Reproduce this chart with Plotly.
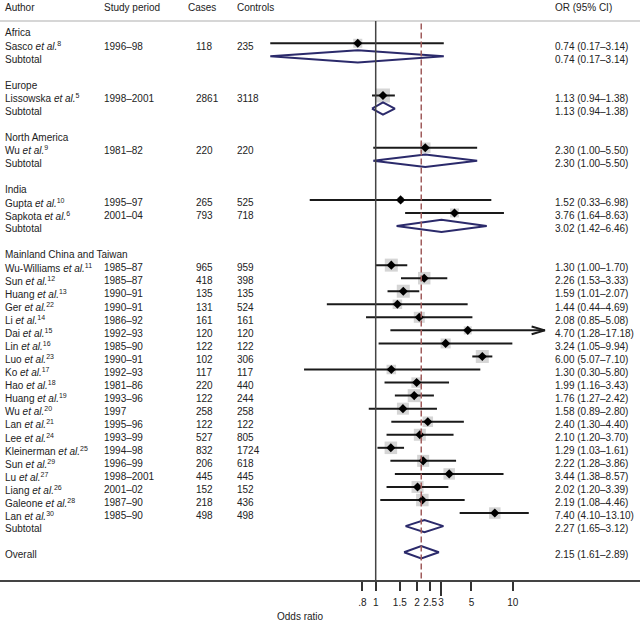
import plotly.graph_objects as go

# ---------------- data ----------------
groups = ["Africa", "Europe", "North America", "India", "Mainland China and Taiwan"]

authors = ["Sasco", "Lissowska", "Wu", "Gupta", "Sapkota",
           "Wu-Williams", "Sun", "Huang", "Ger", "Li", "Dai", "Lin", "Luo", "Ko",
           "Hao", "Huang", "Wu", "Lan", "Lee", "Kleinerman", "Sun", "Lu", "Liang",
           "Galeone", "Lan"]
refs = [8, 5, 9, 10, 6, 11, 12, 13, 22, 14, 15, 16, 23, 17, 18, 19, 20, 21, 24, 25,
        29, 27, 26, 28, 30]
study_group = [0, 1, 2, 3, 3] + [4] * 20
periods = ["1996–98", "1998–2001", "1981–82", "1995–97", "2001–04",
           "1985–87", "1985–87", "1990–91", "1990–91", "1986–92", "1992–93", "1985–90",
           "1990–91", "1992–93", "1981–86", "1993–96", "1997", "1995–96", "1993–99",
           "1994–98", "1996–99", "1998–2001", "2001–02", "1987–90", "1985–90"]
cases = [118, 2861, 220, 265, 793, 965, 418, 135, 131, 161, 120, 122, 102, 117, 220,
         122, 258, 122, 527, 832, 206, 445, 152, 218, 498]
controls = [235, 3118, 220, 525, 718, 959, 398, 135, 524, 161, 120, 122, 306, 117, 440,
            244, 258, 122, 805, 1724, 618, 445, 152, 436, 498]
# odds ratios as drawn
or_est = [0.74, 1.13, 2.30, 1.52, 3.76, 1.30, 2.26, 1.59, 1.44, 2.08, 4.70, 3.24, 6.00,
          1.30, 1.99, 1.91, 1.58, 2.40, 2.10, 1.29, 2.22, 3.44, 2.02, 2.19, 7.40]
or_lo = [0.17, 0.94, 0.96, 0.33, 1.64, 1.00, 1.53, 1.22, 0.44, 0.85, 1.28, 1.05, 5.07,
         0.30, 1.16, 1.38, 0.89, 1.30, 1.20, 1.03, 1.28, 1.38, 1.20, 1.08, 4.10]
or_hi = [3.14, 1.38, 5.50, 6.98, 8.63, 1.70, 3.33, 2.08, 4.69, 5.08, 17.18, 9.94, 7.10,
         5.80, 3.43, 2.66, 2.80, 4.40, 3.70, 1.61, 3.86, 8.57, 3.39, 4.46, 13.10]
or_text = ["0.74 (0.17–3.14)", "1.13 (0.94–1.38)", "2.30 (1.00–5.50)", "1.52 (0.33–6.98)",
           "3.76 (1.64–8.63)", "1.30 (1.00–1.70)", "2.26 (1.53–3.33)", "1.59 (1.01–2.07)",
           "1.44 (0.44–4.69)", "2.08 (0.85–5.08)", "4.70 (1.28–17.18)", "3.24 (1.05–9.94)",
           "6.00 (5.07–7.10)", "1.30 (0.30–5.80)", "1.99 (1.16–3.43)", "1.76 (1.27–2.42)",
           "1.58 (0.89–2.80)", "2.40 (1.30–4.40)", "2.10 (1.20–3.70)", "1.29 (1.03–1.61)",
           "2.22 (1.28–3.86)", "3.44 (1.38–8.57)", "2.02 (1.20–3.39)", "2.19 (1.08–4.46)",
           "7.40 (4.10–13.10)"]
weights = [9, 14, 10.5, 6, 9, 13, 12.5, 13, 9.5, 11, 8, 10, 13, 9.5, 10.5, 13, 12,
           10.5, 12, 12.5, 12, 11.5, 12, 12.5, 11.5]

sub_est = [0.74, 1.13, 2.30, 3.02, 2.27]
sub_lo = [0.17, 0.94, 0.96, 1.42, 1.65]
sub_hi = [3.14, 1.38, 5.50, 6.46, 3.12]
sub_text = ["0.74 (0.17–3.14)", "1.13 (0.94–1.38)", "2.30 (1.00–5.50)",
            "3.02 (1.42–6.46)", "2.27 (1.65–3.12)"]

overall_est, overall_lo, overall_hi = 2.15, 1.61, 2.89
overall_text = "2.15 (1.61–2.89)"

tick_vals = [0.8, 1, 1.5, 2, 2.5, 3, 5, 10]
tick_text = [".8", "1", "1.5", "2", "2.5", "3", "5", "10"]
arrow_limit = 15

# ---------------- layout of rows ----------------
W, H = 640, 623
FONT = "Liberation Sans, Arial, Helvetica, sans-serif"
TXT = "#222222"
NAVY = "#2b2a6b"
TOFF = 0.21  # text offset in rows

study_row, group_row, sub_row = [], [], []
r = 0
for g in range(len(groups)):
    group_row.append(r)
    r += 1
    for i, sg in enumerate(study_group):
        if sg == g:
            study_row.append((i, r))
            r += 1
    sub_row.append(r)
    r += 2
overall_row = r
srow = [0] * len(authors)
for i, rr in study_row:
    srow[i] = rr

fig = go.Figure()

# weight boxes
fig.add_trace(go.Scatter(x=or_est, y=srow, mode="markers",
                         marker=dict(symbol="square", size=weights, color="#c3c3c3",
                                     line=dict(width=0)),
                         hoverinfo="skip", showlegend=False))
# CI lines
lx, ly = [], []
for i in range(len(authors)):
    lx += [or_lo[i], or_hi[i], None]
    ly += [srow[i], srow[i], None]
    if or_hi[i] > arrow_limit:
        lx += [or_hi[i] * 0.8, or_hi[i], or_hi[i] * 0.8, None]
        ly += [srow[i] - 0.3, srow[i], srow[i] + 0.3, None]
fig.add_trace(go.Scatter(x=lx, y=ly, mode="lines", line=dict(color="#1a1a1a", width=2),
                         hoverinfo="skip", showlegend=False))
# point estimates
fig.add_trace(go.Scatter(x=or_est, y=srow, mode="markers",
                         marker=dict(symbol="diamond", size=7, color="#000000"),
                         hoverinfo="skip", showlegend=False))
# subtotal and overall diamonds
h = 0.47
dx, dy = [], []
for g in range(len(groups)):
    rr = sub_row[g]
    dx += [sub_lo[g], sub_est[g], sub_hi[g], sub_est[g], sub_lo[g], None]
    dy += [rr, rr - h, rr, rr + h, rr, None]
dx += [overall_lo, overall_est, overall_hi, overall_est, overall_lo]
dy += [overall_row, overall_row - h, overall_row, overall_row + h, overall_row]
fig.add_trace(go.Scatter(x=dx, y=dy, mode="lines", fill="toself", fillcolor="white",
                         line=dict(color=NAVY, width=2),
                         hoverinfo="skip", showlegend=False))

# ---------------- text ----------------
ann = []


def txt(xpx, y, s, size=10):
    ann.append(dict(x=xpx / W, xref="paper", y=y, yref="y", text=s, showarrow=False,
                    xanchor="left", yanchor="middle",
                    font=dict(family=FONT, size=size, color=TXT)))


COLX = [3, 102, 186, 235, 553]
HEADY = -1.78
for cx, s in zip(COLX, ["Author", "Study period", "Cases", "Controls", "OR (95% CI)"]):
    txt(cx, HEADY, s)
for g in range(len(groups)):
    txt(COLX[0], group_row[g] + TOFF, groups[g])
    txt(COLX[0], sub_row[g] + TOFF, "Subtotal")
    txt(COLX[4], sub_row[g] + TOFF, sub_text[g])
for i in range(len(authors)):
    y = srow[i] + TOFF
    txt(COLX[0], y, f"{authors[i]} <i>et al.</i><sup>{refs[i]}</sup>")
    txt(COLX[1], y, periods[i])
    txt(194, y, str(cases[i]))
    txt(COLX[3], y, str(controls[i]))
    txt(COLX[4], y, or_text[i])
txt(COLX[0], overall_row + TOFF, "Overall")
txt(COLX[4], overall_row + TOFF, overall_text)
ann.append(dict(x=300 / W, xref="paper", y=-(616 - 580) / 580, yref="paper",
                text="Odds ratio", showarrow=False, xanchor="center", yanchor="middle",
                font=dict(family=FONT, size=10, color=TXT)))

# ---------------- shapes ----------------
head_y = (21 - 30.25) / 13.05
shapes = [
    dict(type="line", xref="paper", x0=0, x1=1, yref="y", y0=head_y, y1=head_y,
         line=dict(color="#d6d6d6", width=2)),
    dict(type="line", xref="x", x0=1, x1=1, yref="y", y0=head_y, y1=42.2,
         line=dict(color="#444444", width=1.5)),
    dict(type="line", xref="x", x0=overall_est, x1=overall_est, yref="y",
         y0=head_y + 0.2, y1=42.2, line=dict(color="#a05c5c", width=1.5, dash="6px,3px")),
]

fig.update_layout(
    width=W, height=H, margin=dict(l=0, r=0, t=0, b=43),
    paper_bgcolor="white", plot_bgcolor="white",
    annotations=ann, shapes=shapes,
    xaxis=dict(type="log", range=[-2.742, 1.929], domain=[0, 1],
               tickmode="array", tickvals=tick_vals, ticktext=tick_text,
               ticks="outside", ticklen=9, tickwidth=1.5, tickcolor="#333333",
               tickangle=0,
               tickfont=dict(family=FONT, size=10, color=TXT), ticklabelstandoff=3,
               showgrid=False, zeroline=False, showline=True, linecolor="#444444",
               linewidth=2,
               minor=dict(tickmode="array", tickvals=[3], ticks="outside", ticklen=14,
                          tickwidth=1.5, tickcolor="#333333", showgrid=False)),
    yaxis=dict(range=[42.13, -2.318], visible=False, showgrid=False, zeroline=False),
)

fig.write_html("out.html", config={"displayModeBar": False},
               post_script="document.body.style.margin='0px';document.body.style.padding='0px';")
